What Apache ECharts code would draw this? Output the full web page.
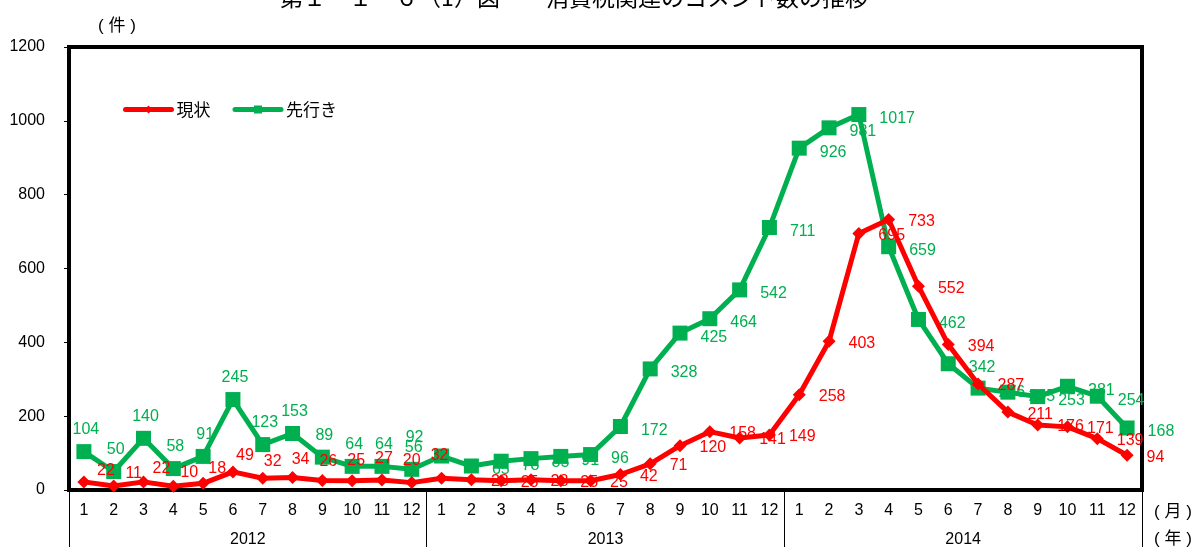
<!DOCTYPE html>
<html>
<head>
<meta charset="utf-8">
<script src="https://cdn.jsdelivr.net/npm/echarts@6/dist/echarts.min.js"></script>
<style>
  html, body { margin: 0; padding: 0; background: #fff; }
  #chart { width: 1197px; height: 548px; }
</style>
</head>
<body>
<div id="chart"></div>
<script>
// Tick labels
const years = ['2012', '2013', '2014'];
const months = ['1', '2', '3', '4', '5', '6', '7', '8', '9', '10', '11', '12'];

// 現状 (current conditions) comment counts, by year
const genjo2012 = [22, 11, 22, 10, 18, 49, 32, 34, 26, 25, 27, 20];
const genjo2013 = [32, 28, 25, 28, 25, 25, 42, 71, 120, 158, 141, 149];
const genjo2014 = [258, 403, 695, 733, 552, 394, 287, 211, 176, 171, 139, 94];

// 先行き (outlook) comment counts, by year
const sakiyuki2012 = [104, 50, 140, 58, 91, 245, 123, 153, 89, 64, 64, 56];
const sakiyuki2013 = [92, 65, 78, 85, 91, 96, 172, 328, 425, 464, 542, 711];
const sakiyuki2014 = [926, 981, 1017, 659, 462, 342, 276, 265, 253, 281, 254, 168];

const categories = [];
years.forEach(y => months.forEach(m => categories.push(y + '-' + m)));
const genjo = genjo2012.concat(genjo2013, genjo2014);
const sakiyuki = sakiyuki2012.concat(sakiyuki2013, sakiyuki2014);

const RED = '#FF0000';
const GREEN = '#00B050';
const NUM_FONT = "'Liberation Sans', Arial, 'Noto Sans CJK JP', sans-serif";
const JP_FONT = "'Noto Sans CJK JP', 'Liberation Sans', sans-serif";

// Label placement: early points carry their labels above, later ones to the right
function redLabel(i) {
  if (i <= 12) return { position: 'inside', offset: [22 - 2 * i, -11 - i] };
  return { position: 'right', distance: 13, offset: [0, 2] };
}
function greenLabel(i) {
  if (i < 12) return { position: 'inside', offset: [2, -22] };
  if (i === 12) return { position: 'inside', offset: [-27, -18] };
  return { position: 'right', distance: 13, offset: [0, 4] };
}

const chart = echarts.init(document.getElementById('chart'), null, { renderer: 'canvas' });

const unitText = (text, x, y) => ({
  type: 'text', x: x, y: y,
  style: {
    text: text, font: "17px 'Liberation Sans', 'Noto Sans CJK JP'", fill: '#000',
    textAlign: 'center', textVerticalAlign: 'middle'
  }
});

chart.setOption({
  animation: false,
  backgroundColor: '#fff',
  textStyle: { fontFamily: NUM_FONT },
  grid: {
    left: 69, right: 55, top: 47, bottom: 57,
    show: true, borderColor: '#000', borderWidth: 4, backgroundColor: 'transparent'
  },
  legend: {
    data: ['現状', '先行き'],
    left: 118, top: 96,
    itemWidth: 46, itemHeight: 10, itemGap: 22,
    lineStyle: { width: 5, cap: 'round' },
    textStyle: { fontFamily: JP_FONT, fontSize: 17, color: '#000' }
  },
  xAxis: [
    {
      type: 'category',
      data: categories,
      boundaryGap: true,
      axisLine: { show: false },
      axisTick: { show: false },
      axisLabel: {
        interval: 0, margin: 13, fontSize: 16, color: '#000',
        formatter: v => v.split('-')[1]
      }
    },
    {
      type: 'category',
      data: years,
      position: 'bottom',
      boundaryGap: true,
      axisLine: { show: false },
      axisTick: { show: true, interval: 0, length: 57, lineStyle: { color: '#000', width: 1 } },
      axisLabel: { interval: 0, margin: 42, fontSize: 16, color: '#000' }
    }
  ],
  yAxis: {
    type: 'value',
    min: 0, max: 1200, interval: 200,
    axisLine: { show: false },
    axisTick: { show: true, length: 5, lineStyle: { color: '#000', width: 1 } },
    splitLine: { show: false },
    axisLabel: { fontSize: 16, color: '#000', margin: 24, formatter: v => String(v) }
  },
  series: [
    {
      name: '現状',
      type: 'line',
      xAxisIndex: 0,
      data: genjo.map((v, i) => ({ value: v, label: redLabel(i) })),
      symbol: 'diamond',
      symbolSize: 13,
      lineStyle: { color: RED, width: 5 },
      itemStyle: { color: RED },
      label: { show: true, color: RED, fontSize: 16, fontFamily: NUM_FONT },
      z: 3
    },
    {
      name: '先行き',
      type: 'line',
      xAxisIndex: 0,
      data: sakiyuki.map((v, i) => ({ value: v, label: greenLabel(i) })),
      symbol: 'rect',
      symbolSize: 15,
      lineStyle: { color: GREEN, width: 5 },
      itemStyle: { color: GREEN },
      label: { show: true, color: GREEN, fontSize: 16, fontFamily: NUM_FONT },
      z: 2
    }
  ],
  graphic: [
    {
      type: 'text', x: 574, y: -3,
      style: {
        text: '第１－１－６（1）図　　消費税関連のコメント数の推移',
        font: "23px 'Noto Sans CJK JP'", fill: '#000',
        textAlign: 'center', textVerticalAlign: 'middle'
      }
    },
    unitText('( 件 )', 117, 26),
    unitText('( 月 )', 1173, 512),
    unitText('( 年 )', 1173, 539)
  ]
});
</script>
</body>
</html>
